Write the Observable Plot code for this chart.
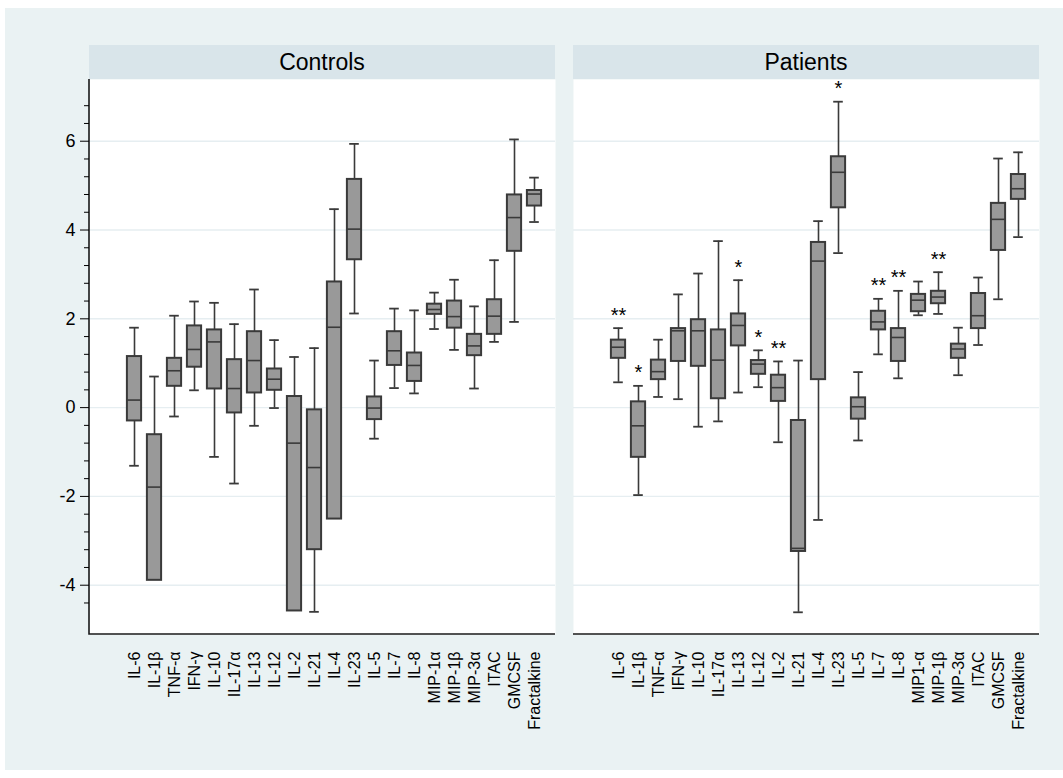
<!DOCTYPE html>
<html>
<head>
<meta charset="utf-8">
<script src="https://cdn.jsdelivr.net/npm/d3@7"></script>
<script src="https://cdn.jsdelivr.net/npm/@observablehq/plot@0.6"></script>
<style>
  body { margin: 0; background: #ffffff; }
  #chart { position: relative; width: 1063px; height: 778px; font-family: "Liberation Sans", Arial, Helvetica, sans-serif; }
  #bg { position: absolute; left: 5px; top: 8px; width: 1058px; height: 762px; background: #eaf2f3; }
  .strip { position: absolute; top: 45px; width: 466px; height: 34px; background: #d9e5ea;
           display: flex; align-items: center; justify-content: center; font-size: 23px; color: #000; }
  .panel { position: absolute; top: 79px; }
</style>
</head>
<body>
<div id="chart">
  <div id="bg"></div>
  <div class="strip" style="left:89px">Controls</div>
  <div class="strip" style="left:573px">Patients</div>
  <div class="panel" id="left" style="left:5px"></div>
  <div class="panel" id="right" style="left:573px"></div>
</div>
<script>
// Cytokine names on each panel's axis
const controlNames = ["IL-6", "IL-1β", "TNF-α", "IFN-γ", "IL-10", "IL-17α", "IL-13", "IL-12", "IL-2", "IL-21", "IL-4",
  "IL-23", "IL-5", "IL-7", "IL-8", "MIP-1α", "MIP-1β", "MIP-3α", "ITAC", "GMCSF", "Fractalkine"];
const patientNames = ["IL-6", "IL-1β", "TNF-α", "IFN-γ", "IL-10", "IL-17α", "IL-13", "IL-12", "IL-2", "IL-21", "IL-4",
  "IL-23", "IL-5", "IL-7", "IL-8", "MIP1-α", "MIP-1β", "MIP-3α", "ITAC", "GMCSF", "Fractalkine"];

// Box summaries (log scale): lower whisker, lower quartile, median, upper quartile, upper whisker
const controlLow    = [-1.31, -3.89, -0.20, 0.39, -1.11, -1.71, -0.41, -0.01, -4.58, -4.60, -2.51, 2.12, -0.70, 0.44, 0.32, 1.77, 1.30, 0.43, 1.48, 1.93, 4.18];
const controlQ1     = [-0.30, -3.89, 0.48, 0.91, 0.42, -0.12, 0.33, 0.39, -4.58, -3.20, -2.51, 3.33, -0.27, 0.95, 0.59, 2.10, 1.79, 1.17, 1.65, 3.52, 4.54];
const controlMedian = [0.17, -1.79, 0.83, 1.31, 1.48, 0.43, 1.06, 0.64, -0.80, -1.35, 1.81, 4.02, -0.01, 1.28, 0.95, 2.21, 2.05, 1.39, 2.06, 4.28, 4.81];
const controlQ3     = [1.15, -0.61, 1.11, 1.84, 1.75, 1.08, 1.71, 0.87, 0.25, -0.05, 2.83, 5.14, 0.24, 1.71, 1.23, 2.33, 2.40, 1.65, 2.43, 4.79, 4.89];
const controlHigh   = [1.80, 0.70, 2.07, 2.39, 2.36, 1.88, 2.66, 1.52, 1.14, 1.34, 4.47, 5.94, 1.06, 2.23, 2.19, 2.59, 2.88, 2.28, 3.32, 6.04, 5.18];

const patientLow    = [0.57, -1.97, 0.24, 0.19, -0.43, -0.31, 0.34, 0.46, -0.78, -4.61, -2.53, 3.48, -0.74, 1.20, 0.66, 2.08, 2.11, 0.73, 1.41, 2.44, 3.84];
const patientQ1     = [1.11, -1.12, 0.63, 1.04, 0.93, 0.20, 1.39, 0.75, 0.14, -3.24, 0.63, 4.50, -0.26, 1.75, 1.04, 2.16, 2.34, 1.11, 1.78, 3.54, 4.69];
const patientMedian = [1.36, -0.41, 0.81, 1.73, 1.73, 1.07, 1.85, 0.98, 0.45, -3.17, 3.30, 5.30, 0.02, 1.93, 1.58, 2.42, 2.49, 1.32, 2.07, 4.24, 4.93];
const patientQ3     = [1.52, 0.13, 1.07, 1.78, 1.98, 1.75, 2.11, 1.06, 0.73, -0.29, 3.72, 5.65, 0.22, 2.17, 1.78, 2.55, 2.62, 1.43, 2.57, 4.60, 5.25];
const patientHigh   = [1.79, 0.49, 1.53, 2.55, 3.02, 3.75, 2.87, 1.29, 1.04, 1.06, 4.20, 6.89, 0.80, 2.45, 2.63, 2.84, 3.05, 1.80, 2.93, 5.61, 5.75];
// Significance markers versus controls
const patientStars  = ["**", "*", "", "", "", "", "*", "*", "**", "", "", "*", "", "**", "**", "", "**", "", "", "", ""];

// Axis ticks
const majorTicks = [-4, -2, 0, 2, 4, 6];
const minorTicks = d3.range(-11, 18).map(k => +(k * 0.4).toFixed(1)).filter(v => !majorTicks.includes(v));

const yDomain = [-5.11, 7.39];

function rows(names, low, q1, med, q3, high, stars) {
  return names.map((name, i) => ({name, low: low[i], q1: q1[i], median: med[i], q3: q3[i], high: high[i], stars: stars ? stars[i] : ""}));
}
const controls = rows(controlNames, controlLow, controlQ1, controlMedian, controlQ3, controlHigh);
const patients = rows(patientNames, patientLow, patientQ1, patientMedian, patientQ3, patientHigh, patientStars);

const ink = "#3a3a3a";
const step = 20.8;

function axisLines(withLeft) {
  return (index, scales, values, dims) => {
    const x0 = dims.marginLeft, x1 = dims.width - dims.marginRight;
    const y0 = dims.marginTop, y1 = dims.height - dims.marginBottom;
    const d = withLeft ? `M${x0},${y0}V${y1}H${x1}` : `M${x0},${y1}H${x1}`;
    return d3.create("svg:path").attr("d", d).attr("fill", "none")
      .attr("stroke", "#1a1a1a").attr("stroke-width", 1.6).node();
  };
}

function panel(data, withAxis) {
  const width = withAxis ? 550 : 466;
  const marginLeft = withAxis ? 84 : 0;
  const start = marginLeft + 27;
  const marks = [
    Plot.frame({fill: "white", stroke: "none"}),
    Plot.gridY(majorTicks, {stroke: "#e6eef1", strokeOpacity: 1, strokeWidth: 1.4}),
    Plot.ruleX(data, {x: "name", y1: "low", y2: "high", stroke: ink, strokeWidth: 1.6}),
    // whisker caps only where a whisker extends past the box
    Plot.tickY(data.filter(d => d.low < d.q1), {x: "name", y: "low", insetLeft: 5.2, insetRight: 5.2, stroke: ink, strokeWidth: 1.8}),
    Plot.tickY(data.filter(d => d.high > d.q3), {x: "name", y: "high", insetLeft: 5.2, insetRight: 5.2, stroke: ink, strokeWidth: 1.8}),
    Plot.barY(data, {x: "name", y1: "q1", y2: "q3", fill: "#999999", stroke: ink, strokeWidth: 2, insetLeft: 2.9, insetRight: 2.9}),
    Plot.tickY(data, {x: "name", y: "median", insetLeft: 2.9, insetRight: 2.9, stroke: ink, strokeWidth: 1.6}),
    Plot.text(data.filter(d => d.stars), {x: "name", y: "high", text: "stars", dy: -13, fontSize: 20, fill: "#000"}),
    axisLines(withAxis),
    Plot.axisX({tickRotate: -90, tickSize: 0, tickPadding: 17, fontSize: 16, label: null, fill: "#000"})
  ];
  if (withAxis) {
    marks.push(
      Plot.axisY(minorTicks, {tickSize: 5, tickFormat: () => "", label: null, stroke: "#000"}),
      Plot.axisY(majorTicks, {tickSize: 9, tickPadding: 5, fontSize: 18, tickFormat: d => String(d), label: null, stroke: "#000", fill: "#000"})
    );
  }
  return Plot.plot({
    width,
    height: 665,
    marginLeft,
    marginRight: 0,
    marginTop: 0,
    marginBottom: 110,
    style: {background: "transparent", fontFamily: "'Liberation Sans', Arial, Helvetica, sans-serif", color: "#000", overflow: "visible"},
    x: {type: "band", domain: data.map(d => d.name), range: [start, start + data.length * step], padding: 0, axis: null},
    y: {domain: yDomain, axis: null},
    marks
  });
}

document.getElementById("left").appendChild(panel(controls, true));
document.getElementById("right").appendChild(panel(patients, false));
</script>
</body>
</html>
